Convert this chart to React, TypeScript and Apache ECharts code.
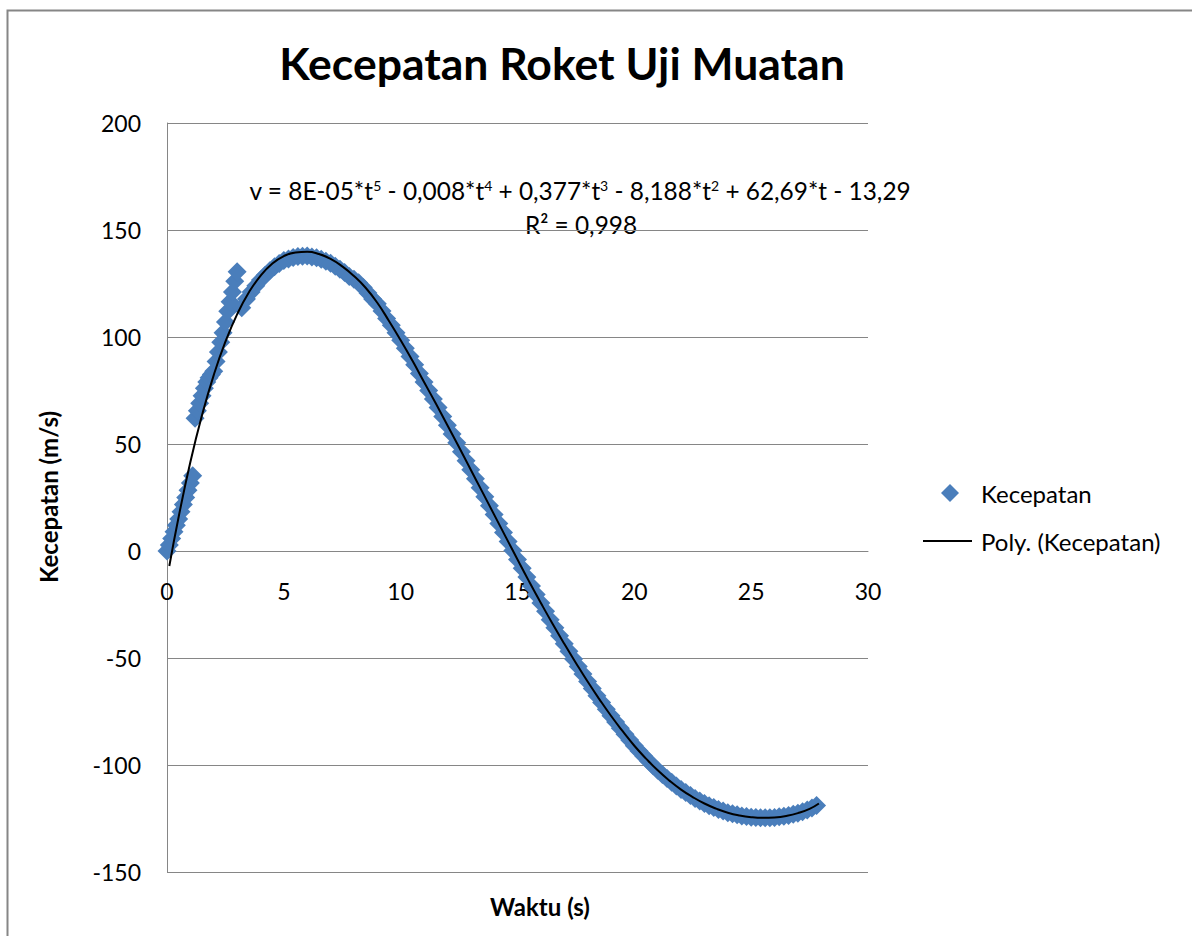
import React, { useEffect, useRef } from 'react';
import * as echarts from 'echarts';

const chartTitle = 'Kecepatan Roket Uji Muatan';
const xAxisTitle = 'Waktu (s)';
const yAxisTitle = 'Kecepatan (m/s)';
const dataName = 'Kecepatan';
const trendName = 'Poly. (Kecepatan)';
const equationText = 'v = 8E-05*t{s|5} - 0,008*t{s|4} + 0,377*t{s|3} - 8,188*t{s|2} + 62,69*t - 13,29';
const r2Text = 'R² = 0,998';

// early (burn) phase samples
const timeEarly = [0, 0.1, 0.2, 0.3, 0.4, 0.5, 0.6, 0.7, 0.8, 0.9, 1.0, 1.1,
  1.2, 1.3, 1.4, 1.5, 1.6, 1.7, 1.8, 1.9,
  2.0, 2.1, 2.2, 2.3, 2.4, 2.5, 2.6, 2.7, 2.8, 2.9, 3.0];
const speedEarly = [0, 2.8, 5.8, 9, 12, 15, 18.3, 21.7, 25, 28.4, 31.8, 35.2,
  62, 65.5, 69, 72.5, 76, 79, 81, 82.5,
  84, 88.5, 93, 97.5, 102, 107, 112, 116.5, 121, 126, 130.5];

// main phase samples
const timeMain = [3.2, 3.4, 3.6, 3.8, 4.0, 4.2, 4.4, 4.6, 4.8, 5.0, 5.2, 5.4, 5.6, 5.8, 6.0,
  6.2, 6.4, 6.6, 6.8, 7.0, 7.2, 7.4, 7.6, 7.8, 8.0, 8.2, 8.4, 8.6, 8.8, 9.0,
  9.2, 9.4, 9.6, 9.8, 10.0, 10.2, 10.4, 10.6, 10.8, 11.0, 11.2, 11.4, 11.6, 11.8, 12.0,
  12.2, 12.4, 12.6, 12.8, 13.0, 13.2, 13.4, 13.6, 13.8, 14.0, 14.2, 14.4, 14.6, 14.8, 15.0,
  15.2, 15.4, 15.6, 15.8, 16.0, 16.2, 16.4, 16.6, 16.8, 17.0, 17.2, 17.4, 17.6, 17.8, 18.0,
  18.2, 18.4, 18.6, 18.8, 19.0, 19.2, 19.4, 19.6, 19.8, 20.0, 20.2, 20.4, 20.6, 20.8, 21.0,
  21.2, 21.4, 21.6, 21.8, 22.0, 22.2, 22.4, 22.6, 22.8, 23.0, 23.2, 23.4, 23.6, 23.8, 24.0,
  24.2, 24.4, 24.6, 24.8, 25.0, 25.2, 25.4, 25.6, 25.8, 26.0, 26.2, 26.4, 26.6, 26.8, 27.0,
  27.2, 27.4, 27.6, 27.8];
const speedMain = [113.7, 117.8, 121, 124, 126.6, 128.8, 130.9, 132.8, 134.3, 135.8, 136.5, 137.2, 137.6, 137.7, 137.8,
  137.4, 137, 136.3, 135.4, 134.5, 133.1, 131.7, 130.1, 128.3, 127, 125.3, 123.1, 120.6, 117.8, 115.5,
  112.1, 108.7, 105.5, 102, 98.5, 94.7, 90.9, 87, 83, 79, 75, 71, 67, 62.9, 58.8,
  54.7, 50.6, 46.4, 42.2, 38, 33.8, 29.6, 25.4, 21.2, 17, 12.8, 8.6, 4.4, 0.2, -4,
  -8.1, -12.2, -16.3, -20.3, -24.3, -28.2, -32.1, -35.9, -39.6, -43.3, -46.9, -50.5, -54, -57.5, -61,
  -64.3, -67.6, -70.8, -73.9, -77, -79.9, -82.8, -85.6, -88.3, -91, -93.4, -95.8, -98.1, -100.3, -102.5,
  -104.4, -106.3, -108.1, -109.8, -111.5, -112.9, -114.3, -115.6, -116.8, -118, -119, -119.9, -120.8, -121.5, -122.3,
  -122.8, -123.3, -123.8, -124.1, -124.4, -124.5, -124.6, -124.7, -124.6, -124.5, -124.2, -123.9, -123.6, -123, -122.5,
  -121.8, -121, -120.1, -118.9];

// polynomial trendline
const trendTime = [0.1, 0.5, 1, 1.5, 2, 2.5, 3, 3.5, 4, 4.5, 5, 5.5, 6, 6.5, 7, 7.5, 8, 8.5, 9, 9.5,
  10, 10.5, 11, 11.5, 12, 12.5, 13, 13.5, 14, 14.5, 15, 15.5, 16, 16.5, 17, 17.5, 18, 18.5, 19, 19.5,
  20, 20.5, 21, 21.5, 22, 22.5, 23, 23.5, 24, 24.5, 25, 25.5, 26, 26.5, 27, 27.5, 27.9];
const trendSpeed = [-7, 16, 41.6, 63.5, 82.2, 97.8, 110.6, 120.8, 128.6, 134.2, 137.8, 139.5, 139.8, 138.8, 136.5, 133, 128.5, 123, 116, 107.5,
  98.5, 89, 79, 69, 58.8, 48.5, 38, 27.5, 17, 6.5, -4, -14.3, -24.3, -34, -43.3, -52.3, -61, -69.2, -77, -84.2,
  -91, -97, -102.5, -107.3, -111.5, -115, -118, -120.4, -122.3, -123.6, -124.4, -124.7, -124.5, -123.8, -122.5, -120.5, -118];

const FONT = 'Lato, "Open Sans", sans-serif';
const GRID_TOP = 123;
const GRID_BOTTOM = 64;
const Y_MIN = -150;
const Y_MAX = 200;

export default function App() {
  const ref = useRef<HTMLDivElement>(null);
  useEffect(() => {
    const chart = echarts.init(ref.current as HTMLDivElement, null, { renderer: 'svg' });
    const scatterData = [
      ...timeEarly.map((t, i) => [t, speedEarly[i]]),
      ...timeMain.map((t, i) => [t, speedMain[i]]),
    ];
    const trendData = trendTime.map((t, i) => [t, trendSpeed[i]]);
    // move the x axis up so that it crosses the y axis at zero (like Excel)
    const plotHeight = 936 - GRID_TOP - GRID_BOTTOM;
    const zeroOffset = -plotHeight * (0 - Y_MIN) / (Y_MAX - Y_MIN);
    chart.setOption({
      animation: false,
      backgroundColor: '#ffffff',
      textStyle: { fontFamily: FONT, color: '#000' },
      grid: { left: 167, top: GRID_TOP, right: 324, bottom: GRID_BOTTOM, containLabel: false },
      xAxis: {
        type: 'value', min: 0, max: 30, interval: 5, position: 'bottom', offset: zeroOffset,
        axisLine: { onZero: false, lineStyle: { color: '#868686', width: 1 } },
        axisTick: { show: false },
        splitLine: { show: false },
        axisLabel: { fontSize: 23, color: '#000', margin: 28, fontFamily: FONT },
      },
      yAxis: {
        type: 'value', min: Y_MIN, max: Y_MAX, interval: 50,
        axisLine: { show: true, onZero: false, lineStyle: { color: '#868686', width: 1 } },
        axisTick: { show: false },
        splitLine: { show: true, lineStyle: { color: '#868686', width: 1 } },
        axisLabel: { fontSize: 23, color: '#000', margin: 26, fontFamily: FONT },
      },
      legend: [
        {
          data: [{ name: dataName, icon: 'diamond' }],
          left: 941, top: 481, itemWidth: 18, itemHeight: 18, padding: 0, selectedMode: false,
          textStyle: { fontFamily: FONT, fontSize: 24, color: '#000', padding: [0, 0, 0, 17] },
        },
        {
          data: [{ name: trendName, icon: 'rect', itemStyle: { color: '#000' } }],
          left: 923, top: 529, itemWidth: 49, itemHeight: 2, padding: 0, selectedMode: false,
          itemStyle: { color: '#000' },
          textStyle: { fontFamily: FONT, fontSize: 24, color: '#000', padding: [0, 0, 0, 4] },
        },
      ],
      graphic: [
        {
          type: 'rect', silent: true, z: -10,
          shape: { x: 7.5, y: 10.5, width: 1400, height: 1200 },
          style: { fill: 'none', stroke: '#868686', lineWidth: 2 },
        },
        {
          type: 'text', x: 562, y: 62,
          style: { text: chartTitle, font: `bold 44.5px ${FONT}`, fill: '#000', align: 'center', verticalAlign: 'middle' },
        },
        {
          type: 'text', x: 580, y: 190,
          style: {
            text: equationText, font: `24.4px ${FONT}`, fill: '#000', align: 'center', verticalAlign: 'middle',
            rich: { s: { fontSize: 14, fontFamily: FONT, verticalAlign: 'top', fill: '#000' } },
          },
        },
        {
          type: 'text', x: 581, y: 224,
          style: { text: r2Text, font: `24.4px ${FONT}`, fill: '#000', align: 'center', verticalAlign: 'middle' },
        },
        {
          type: 'text', x: 540, y: 906,
          style: { text: xAxisTitle, font: `bold 24px ${FONT}`, fill: '#000', align: 'center', verticalAlign: 'middle' },
        },
        {
          type: 'text', x: 48, y: 497, rotation: Math.PI / 2,
          style: { text: yAxisTitle, font: `bold 24px ${FONT}`, fill: '#000', align: 'center', verticalAlign: 'middle' },
        },
      ],
      series: [
        {
          name: dataName, type: 'scatter', data: scatterData,
          symbol: 'diamond', symbolSize: 19,
          itemStyle: { color: '#4a7ebb', opacity: 1 },
          z: 2,
        },
        {
          name: trendName, type: 'line', data: trendData,
          smooth: true, symbol: 'none', showSymbol: false,
          itemStyle: { color: '#000' },
          lineStyle: { color: '#000', width: 2 },
          z: 3,
        },
      ],
    });
    return () => chart.dispose();
  }, []);
  return (
    <div
      ref={ref}
      style={{ position: 'fixed', left: 0, top: 0, width: 1192, height: 936, background: '#fff' }}
    />
  );
}
